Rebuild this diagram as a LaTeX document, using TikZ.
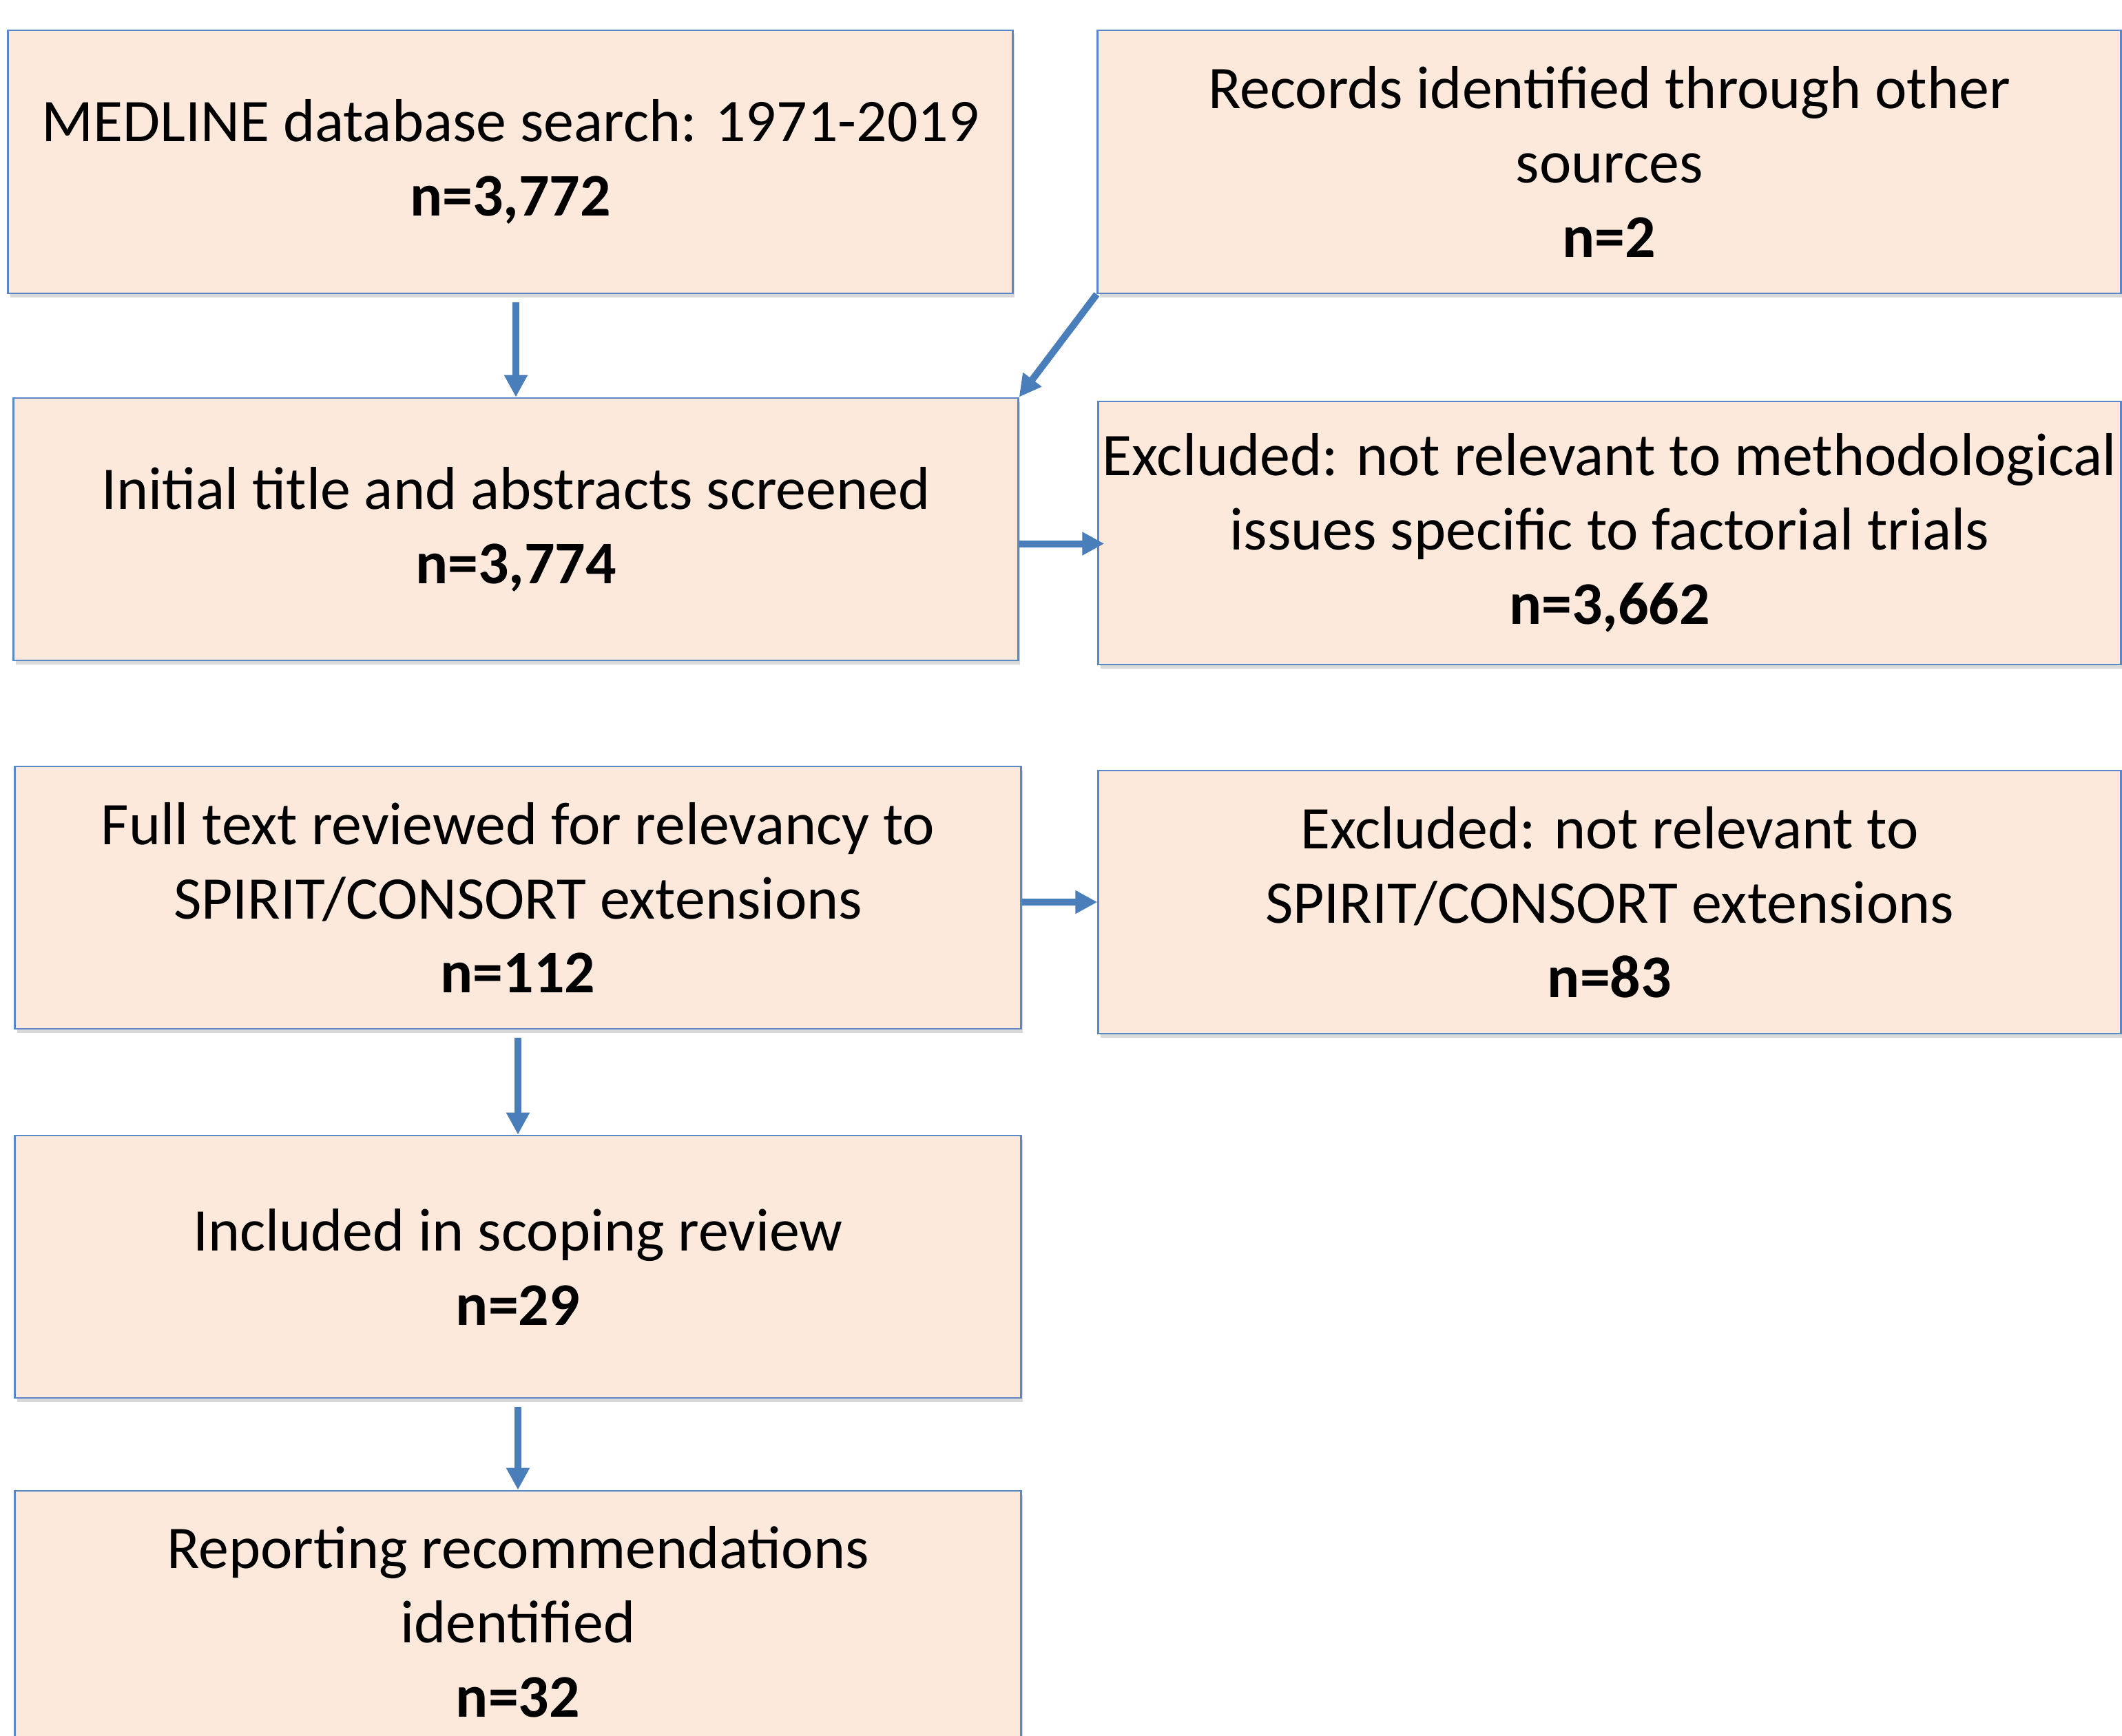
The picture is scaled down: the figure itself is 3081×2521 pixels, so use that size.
\documentclass[tikz,border=0pt]{standalone}
\usepackage{fontspec}
\setmainfont{Carlito}
\usetikzlibrary{calc,arrows.meta,shadows}
\definecolor{boxfill}{HTML}{FCE9DB}
\definecolor{boxline}{HTML}{5A87C5}
\definecolor{arrowblue}{HTML}{4A7EBB}
\begin{document}
\begin{tikzpicture}[x=0.01cm,y=-0.01cm,
box/.style={draw=boxline,line width=0.7pt,fill=boxfill,align=center,inner sep=0pt,
 drop shadow={shadow xshift=0.03cm,shadow yshift=-0.06cm,opacity=0.25,fill=black!60},
 font=\fontsize{25}{30.7}\selectfont},
arr/.style={draw=arrowblue,line width=0.1cm,-{Triangle[length=0.32cm,width=0.32cm]}}]
\clip (0,0) rectangle (3081,2521);
\node[box,minimum width=14.58cm,minimum height=3.82cm](medline)at(741,235){MEDLINE database search: 1971-2019\\\textbf{n=3,772}};
\node[box,minimum width=14.85cm,minimum height=3.82cm](other)at(2336.5,235){Records identified through other\\sources\\\textbf{n=2}};
\node[box,minimum width=14.58cm,minimum height=3.81cm](screened)at(749,768.5){Initial title and abstracts screened\\\textbf{n=3,774}};
\node[box,minimum width=14.84cm,minimum height=3.82cm](exclA)at(2337,774){Excluded: not relevant to methodological\\issues specific to factorial trials\\\textbf{n=3,662}};
\node[box,minimum width=14.60cm,minimum height=3.81cm](fulltext)at(752,1303.5){Full text reviewed for relevancy to\\SPIRIT/CONSORT extensions\\\textbf{n=112}};
\node[box,minimum width=14.84cm,minimum height=3.82cm](exclB)at(2337,1310){Excluded: not relevant to\\SPIRIT/CONSORT extensions\\\textbf{n=83}};
\node[box,minimum width=14.60cm,minimum height=3.81cm](included)at(752,1839.5){Included in scoping review\\\textbf{n=29}};
\node[box,minimum width=14.60cm,minimum height=3.81cm](reporting)at(752,2355.5){Reporting recommendations\\identified\\\textbf{n=32}};
% connectors
\draw[arr,shorten <=0.12cm](medline.south -| screened.north)--(screened.north);
\draw[arr](other.south west)--(screened.north east);
\draw[arr]($(screened.east)+(0,21)$)--($(exclA.west |- screened.east)+(10,21)$);
\draw[arr](fulltext.east |- exclB.west)--(exclB.west);
\draw[arr,shorten <=0.12cm](fulltext.south -| included.north)--(included.north);
\draw[arr,shorten <=0.12cm](included.south -| reporting.north)--(reporting.north);
\end{tikzpicture}
\end{document}
